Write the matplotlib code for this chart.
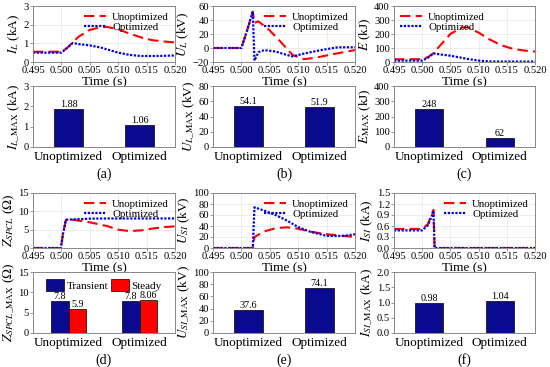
import matplotlib
matplotlib.use("Agg")
import matplotlib.pyplot as plt

plt.rcParams['font.family'] = 'Liberation Serif'
plt.rcParams['mathtext.fontset'] = 'stix'

# ---- time-domain curves ----
t_a = [0.495, 0.4975, 0.5000, 0.5010, 0.5020, 0.5030, 0.5050, 0.5070, 0.5080, 0.5100, 0.5120, 0.5140, 0.5160, 0.5180, 0.5200]
iL_unopt = [0.55, 0.55, 0.55, 0.75, 1.05, 1.35, 1.72, 1.87, 1.88, 1.75, 1.52, 1.32, 1.17, 1.10, 1.05]
iL_opt = [0.50, 0.50, 0.50, 0.75, 1.02, 0.96, 0.89, 0.77, 0.68, 0.50, 0.38, 0.32, 0.32, 0.33, 0.35]

t_b = [0.495, 0.5000, 0.5010, 0.5020, 0.5023, 0.5030, 0.5050, 0.5070, 0.5090, 0.5110, 0.5130, 0.5160, 0.5180, 0.5200]
uL_unopt = [0, 0, 25, 52, 36, 38, 25, 8, -10, -16, -14, -9, -6, -3]
t_b2 = [0.495, 0.5000, 0.5010, 0.5020, 0.5023, 0.5030, 0.5040, 0.5060, 0.5080, 0.5090, 0.5110, 0.5140, 0.5170, 0.5200]
uL_opt = [0, 0, 25, 52, -18, -6, -3, -5, -10, -12, -8, -3, 1, 1]

t_c = [0.495, 0.4975, 0.5000, 0.5010, 0.5020, 0.5030, 0.5050, 0.5070, 0.5080, 0.5100, 0.5120, 0.5140, 0.5160, 0.5180, 0.5200]
e_unopt = [20, 20, 20, 35, 62, 110, 200, 246, 248, 210, 160, 120, 95, 82, 75]
e_opt = [10, 10, 10, 30, 62, 55, 45, 30, 22, 10, 4, 3, 3, 3, 3]

t_d = [0.495, 0.4999, 0.5003, 0.5008, 0.5020, 0.5050, 0.5080, 0.5100, 0.5120, 0.5140, 0.5160, 0.5180, 0.5200]
z_unopt = [0, 0, 4.0, 7.7, 7.7, 7.0, 6.0, 5.0, 4.6, 4.8, 5.3, 5.7, 5.9]
z_opt = [0, 0, 4.0, 7.7, 7.8, 8.0, 8.05, 8.05, 8.06, 8.06, 8.06, 8.06, 8.06]

t_e = [0.495, 0.5020, 0.5023, 0.5040, 0.5060, 0.5080, 0.5100, 0.5120, 0.5150, 0.5180, 0.5200]
usi_unopt = [0, 0, 20, 30, 36, 37.6, 35, 30, 25, 22, 20]
usi_opt = [0, 0, 74, 68, 60, 50, 38, 30, 22, 22, 25]

t_f = [0.495, 0.4975, 0.5000, 0.5010, 0.5020, 0.5022, 0.5030, 0.5200]
isi_unopt = [0.52, 0.52, 0.52, 0.65, 1.04, 0.0, 0.0, 0.0]
isi_opt = [0.48, 0.48, 0.48, 0.62, 0.98, 0.0, 0.0, 0.0]

# ---- peak values (bars) ----
cases = ["Unoptimized", "Optimized"]
iL_max = [1.88, 1.06]
uL_max = [54.1, 51.9]
e_max = [248, 62]
z_transient = [7.8, 7.8]
z_steady = [5.9, 8.06]
usi_max = [37.6, 74.1]
isi_max = [0.98, 1.04]

RED = '#ff0000'
BLUE = '#0000ee'
NAVY = '#0a0a8f'
GRAY = '#888888'
xticks = [0.495, 0.500, 0.505, 0.510, 0.515, 0.520]

TICK = 7.6
LAB = 9.5

fig = plt.figure(figsize=(5.5, 3.67), dpi=100)

cols = [(33, 175), (213, 355), (394, 535)]
rows_line = [(6, 62), (193, 248)]
rows_bar = [(86, 147), (272, 333)]


def box(col, row):
    l, r = col
    t, b = row
    return [l / 550, 1 - b / 367, (r - l) / 550, (b - t) / 367]


def style(ax):
    for s in ax.spines.values():
        s.set_color(GRAY)
        s.set_linewidth(0.7)
    ax.tick_params(labelsize=TICK, length=2, width=0.6, color=GRAY, pad=1)


def line_panel(col, row, t1, y1, t2, y2, ylim, yticks, ylabel, loc, fmt=None):
    ax = fig.add_axes(box(col, row))
    ax.plot(t1, y1, color=RED, lw=1.5, ls=(0, (5, 2.5)), label='Unoptimized')
    ax.plot(t2, y2, color=BLUE, lw=1.6, ls=(0, (1, 0.7)), label='Optimized')
    ax.set_xlim(0.495, 0.520)
    ax.set_ylim(*ylim)
    ax.set_xticks(xticks)
    ax.set_xticklabels(['%.3f' % v for v in xticks])
    ax.set_yticks(yticks)
    if fmt:
        ax.set_yticklabels([fmt % v for v in yticks])
    ax.grid(True, color='#e6e6e6', lw=0.5)
    ax.set_axisbelow(True)
    ax.set_xlabel('Time (s)', fontsize=LAB, labelpad=1)
    ax.set_ylabel(ylabel, fontsize=LAB, labelpad=1)
    ax.legend(loc=loc, fontsize=7.8, frameon=False, handlelength=2.0,
              borderpad=0.05, labelspacing=0.1, handletextpad=0.6)
    style(ax)
    return ax


def bar_panel(col, row, vals, ylim, yticks, ylabel, letter, fmt=None):
    ax = fig.add_axes(box(col, row))
    bars = ax.bar([0, 1], vals, width=0.4, color=NAVY, edgecolor='black', lw=0.5)
    for b, v in zip(bars, vals):
        ax.text(b.get_x() + b.get_width() / 2, v, str(v), ha='center', va='bottom', fontsize=7.3)
    ax.set_xlim(-0.5, 1.5)
    ax.set_ylim(*ylim)
    ax.set_xticks([0, 1])
    ax.set_xticklabels(cases)
    ax.set_yticks(yticks)
    if fmt:
        ax.set_yticklabels([fmt % v for v in yticks])
    ax.set_ylabel(ylabel, fontsize=LAB, labelpad=1)
    style(ax)
    ax.tick_params(axis='x', labelsize=LAB, length=0, pad=3)
    pos = ax.get_position()
    fig.text(pos.x0 + pos.width / 2, pos.y0 - 0.074, letter, ha='center', va='center', fontsize=10)
    return ax


line_panel(cols[0], rows_line[0], t_a, iL_unopt, t_a, iL_opt, (0, 3), [0, 1, 2, 3], r'$I_L$ (kA)', 'upper right')
line_panel(cols[1], rows_line[0], t_b, uL_unopt, t_b2, uL_opt, (-20, 60), [-20, 0, 20, 40, 60], r'$U_L$ (kV)', 'upper right')
line_panel(cols[2], rows_line[0], t_c, e_unopt, t_c, e_opt, (0, 400), [0, 100, 200, 300, 400], r'$E$ (kJ)', 'upper left')
line_panel(cols[0], rows_line[1], t_d, z_unopt, t_d, z_opt, (0, 15), [0, 5, 10, 15], r'$Z_{SPCL}$ ($\Omega$)', 'upper right')
line_panel(cols[1], rows_line[1], t_e, usi_unopt, t_e, usi_opt, (0, 100), [0, 20, 40, 60, 80, 100], r'$U_{SI}$ (kV)', 'upper right')
line_panel(cols[2], rows_line[1], t_f, isi_unopt, t_f, isi_opt, (0, 1.5), [0, 0.3, 0.6, 0.9, 1.2, 1.5], r'$I_{SI}$ (kA)', 'upper right', fmt='%.1f')

bar_panel(cols[0], rows_bar[0], iL_max, (0, 3), [0, 1, 2, 3], r'$I_{L\_\mathrm{MAX}}$ (kA)', '(a)')
bar_panel(cols[1], rows_bar[0], uL_max, (0, 80), [0, 20, 40, 60, 80], r'$U_{L\_\mathrm{MAX}}$ (kV)', '(b)')
bar_panel(cols[2], rows_bar[0], e_max, (0, 400), [0, 100, 200, 300, 400], r'$E_{\mathrm{MAX}}$ (kJ)', '(c)')
bar_panel(cols[1], rows_bar[1], usi_max, (0, 100), [0, 20, 40, 60, 80, 100], r'$U_{SI\_\mathrm{MAX}}$ (kV)', '(e)')
bar_panel(cols[2], rows_bar[1], isi_max, (0, 2.0), [0, 0.5, 1.0, 1.5, 2.0], r'$I_{SI\_\mathrm{MAX}}$ (kA)', '(f)', fmt='%.1f')

# grouped bars for (d)
ax = fig.add_axes(box(cols[0], rows_bar[1]))
w = 0.25
b1 = ax.bar([-w / 2, 1 - w / 2], z_transient, width=w, color=NAVY, edgecolor='black', lw=0.5, label='Transient')
b2 = ax.bar([w / 2, 1 + w / 2], z_steady, width=w, color=RED, edgecolor='black', lw=0.5, label='Steady')
for bars, vals in ((b1, z_transient), (b2, z_steady)):
    for b, v in zip(bars, vals):
        ax.text(b.get_x() + b.get_width() / 2, v, str(v), ha='center', va='bottom', fontsize=7.3)
ax.set_xlim(-0.5, 1.5)
ax.set_ylim(0, 15)
ax.set_xticks([0, 1])
ax.set_xticklabels(cases)
ax.set_yticks([0, 5, 10, 15])
ax.set_ylabel(r'$Z_{SPCL\_\mathrm{MAX}}$ ($\Omega$)', fontsize=LAB, labelpad=1)
ax.legend(loc='upper center', ncol=2, fontsize=8, frameon=False, handlelength=1.6,
          handleheight=1.2, columnspacing=0.3, handletextpad=0.2, borderpad=0.15)
style(ax)
ax.tick_params(axis='x', labelsize=LAB, length=0, pad=3)
pos = ax.get_position()
fig.text(pos.x0 + pos.width / 2, pos.y0 - 0.074, '(d)', ha='center', va='center', fontsize=10)

fig.savefig('out.png', dpi=100)
